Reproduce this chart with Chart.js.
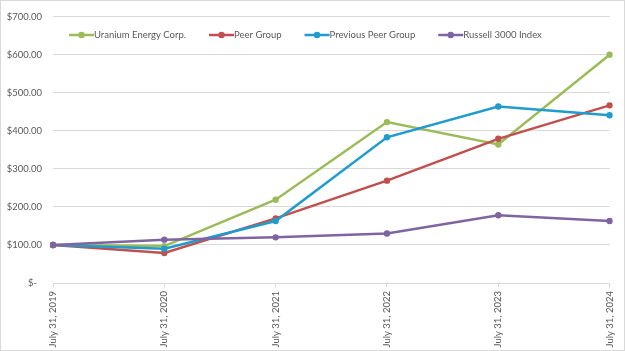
<!DOCTYPE html>
<html>
<head>
<meta charset="utf-8">
<script src="https://cdn.jsdelivr.net/npm/chart.js@4.4.1/dist/chart.umd.min.js"></script>
<style>
  html, body { margin: 0; padding: 0; background: #fff; }
  canvas { display: block; }
</style>
</head>
<body>
<canvas id="chart" width="625" height="351"></canvas>
<script>
// chart data
const categories = ['July 31, 2019', 'July 31, 2020', 'July 31, 2021', 'July 31, 2022', 'July 31, 2023', 'July 31, 2024'];
const uraniumEnergy = [100, 97, 219, 423, 364, 600];
const peerGroup = [100, 79, 170, 269, 379, 467];
const previousPeerGroup = [100, 90, 163, 383, 464, 441];
const russell3000 = [100, 114, 120, 130, 178, 163];
const yTicks = [0, 100, 200, 300, 400, 500, 600, 700];

const FONT = 'Lato, "Open Sans", sans-serif';
const FONT_SIZE = 9.5;
const TEXT = '#595959';
const GRID = '#D9D9D9';

// excel draws later series on top, so give them a lower order
function series(label, data, color, order) {
  return {
    label,
    data,
    order,
    borderColor: color,
    backgroundColor: color,
    borderWidth: 2.5,
    pointRadius: 3.2,
    pointHoverRadius: 3.2,
    pointBorderWidth: 0,
    tension: 0
  };
}

// white background and thin frame round the picture
const framePlugin = {
  id: 'frame',
  beforeDraw(chart) {
    const ctx = chart.ctx;
    ctx.save();
    ctx.fillStyle = '#fff';
    ctx.fillRect(0, 0, chart.width, chart.height);
    ctx.strokeStyle = GRID;
    ctx.lineWidth = 1;
    ctx.strokeRect(0.5, 0.5, chart.width - 1, chart.height - 1);
    ctx.restore();
  }
};

// legend inside the plot: line with a dot, then the name
const lineLegend = {
  id: 'lineLegend',
  afterDraw(chart) {
    const ctx = chart.ctx;
    ctx.save();
    ctx.font = FONT_SIZE + 'px ' + FONT;
    ctx.textBaseline = 'middle';
    let x = 69;
    const y = 35;
    chart.data.datasets.forEach(ds => {
      ctx.strokeStyle = ds.borderColor;
      ctx.lineWidth = 2.5;
      ctx.beginPath();
      ctx.moveTo(x, y);
      ctx.lineTo(x + 25, y);
      ctx.stroke();
      ctx.fillStyle = ds.borderColor;
      ctx.beginPath();
      ctx.arc(x + 12.5, y, 3.2, 0, Math.PI * 2);
      ctx.fill();
      ctx.fillStyle = TEXT;
      ctx.fillText(ds.label, x + 25, y);
      x += 25 + ctx.measureText(ds.label).width + 23;
    });
    ctx.restore();
  }
};

new Chart(document.getElementById('chart'), {
  type: 'line',
  data: {
    labels: categories,
    datasets: [
      series('Uranium Energy Corp.', uraniumEnergy, '#9BBB59', 4),
      series('Peer Group', peerGroup, '#C0504D', 3),
      series('Previous Peer Group', previousPeerGroup, '#1F9BCE', 2),
      series('Russell 3000 Index', russell3000, '#8064A2', 1)
    ]
  },
  options: {
    responsive: false,
    animation: false,
    layout: { padding: { top: 13, right: 13, left: 0, bottom: 0 } },
    plugins: {
      legend: { display: false },
      tooltip: { enabled: false }
    },
    scales: {
      x: {
        offset: false,
        grid: { display: true, drawOnChartArea: false, color: GRID, tickLength: 4 },
        border: { color: GRID },
        ticks: {
          color: TEXT,
          font: { family: FONT, size: FONT_SIZE },
          minRotation: 90,
          maxRotation: 90,
          padding: 4,
          autoSkip: false
        },
        afterFit(scale) { scale.height = 68; }
      },
      y: {
        min: 0,
        max: 700,
        afterBuildTicks(scale) { scale.ticks = yTicks.map(v => ({ value: v })); },
        grid: { color: GRID, drawTicks: false },
        border: { display: false },
        ticks: {
          color: TEXT,
          font: { family: FONT, size: FONT_SIZE },
          padding: 11,
          callback: v => v === 0 ? '$-  ' : '$' + v.toFixed(2)
        },
        afterFit(scale) { scale.width = 53; }
      }
    }
  },
  plugins: [framePlugin, lineLegend]
});
</script>
</body>
</html>
